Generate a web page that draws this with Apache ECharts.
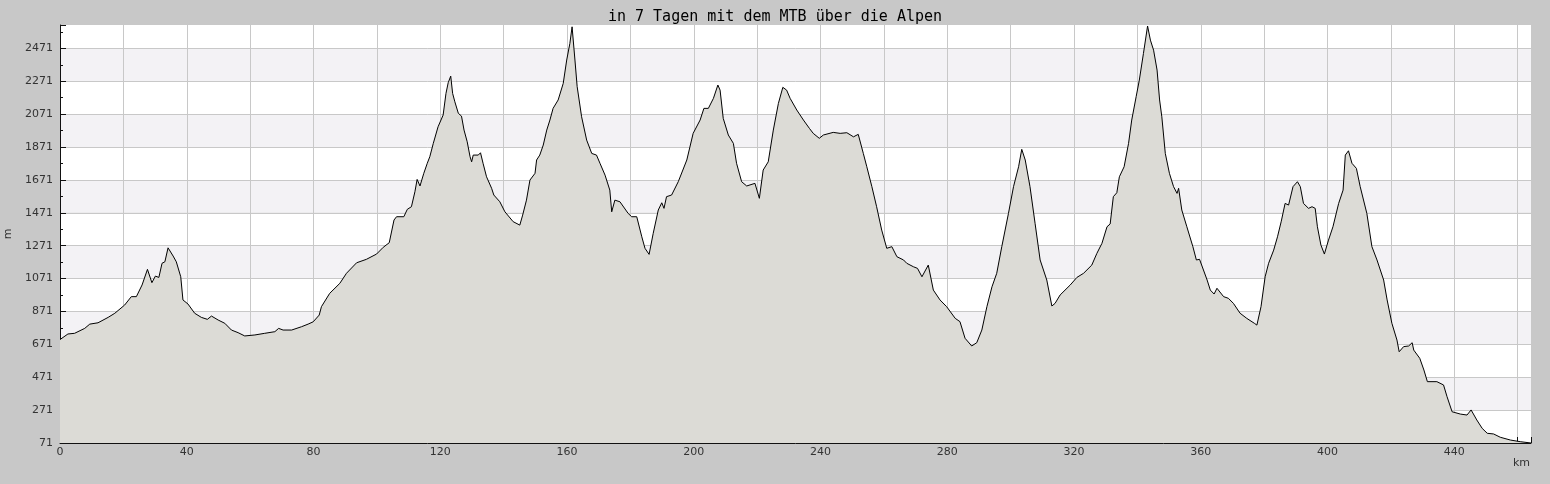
<!DOCTYPE html>
<html lang="de">
<head>
    <meta charset="UTF-8">
    <title>Höhenprofil</title>
    <script src="https://cdn.jsdelivr.net/npm/echarts@6/dist/echarts.min.js"></script>
    <style>
        html, body { margin: 0; padding: 0; background: #c8c8c8; }
        #main { width: 1550px; height: 484px; }
    </style>
</head>
<body>
    <div id="main"></div>
    <script type="text/javascript">
        var km = [
            0, 2.5, 4.6, 7.8, 9.4, 12, 15.2, 17.3, 20.4, 22.5, 24.1, 25.9, 27.6, 29.0, 30.1, 31.2, 32.2, 33.1, 34.1, 35.7,
            36.7, 38.1, 38.8, 40.4, 42.5, 44.6, 46.5, 47.8, 49.9, 52.0, 54.1, 56.2, 58.3, 61.5, 64.6, 67.8, 69.0, 70.4, 73.1, 76.2,
            78.3, 79.9, 81.8, 82.5, 85.1, 88.3, 90.4, 93.6, 96.7, 99.9, 102.0, 103.9, 105.4, 106.2, 108.5, 109.6, 110.9, 112.0, 112.7, 113.6,
            114.8, 115.9, 116.7, 117.8, 119.3, 120.9, 121.8, 122.5, 123.3, 123.9, 124.6, 125.7, 126.7, 127.5, 128.5, 129.4, 129.9, 130.4, 132.0, 132.7,
            133.5, 134.6, 136.2, 136.9, 138.8, 140.4, 143.0, 145.1, 146.0, 147.2, 148.3, 149.9, 150.4, 151.4, 152.5, 153.6, 154.6, 155.6, 157.2, 158.8,
            159.9, 160.9, 161.6, 162.5, 163.2, 164.6, 166.2, 167.8, 169.3, 170.4, 172.0, 173.5, 174.1, 175.1, 176.7, 179.3, 180.4, 182.0, 183.6, 184.6,
            185.9, 187.2, 188.8, 189.9, 190.6, 191.4, 193.0, 195.1, 197.8, 199.8, 202.0, 203.2, 204.6, 206.2, 207.6, 208.3, 209.3, 210.9, 212.5, 213.5,
            215.1, 216.7, 219.3, 220.7, 221.9, 223.5, 225.1, 226.7, 228.1, 229.3, 230.4, 232.5, 234.6, 236.5, 237.7, 239.6, 240.9, 244.0, 246.2, 248.3,
            250.4, 251.9, 253.5, 254.6, 256.2, 257.7, 259.3, 260.9, 262.5, 264.1, 266.2, 267.2, 269.3, 270.6, 272.0, 274.0, 275.6, 277.7, 279.8, 282.5,
            284.0, 285.6, 287.7, 289.3, 290.9, 292.5, 294.1, 295.6, 297.2, 299.3, 300.9, 302.5, 303.5, 304.6, 306.1, 307.7, 309.3, 311.4, 313.0, 314.0,
            315.6, 318.8, 320.9, 323.0, 325.6, 327.2, 328.8, 330.4, 331.4, 332.4, 333.5, 334.3, 335.8, 337.2, 338.2, 339.6, 340.6, 341.9, 343.2, 344.1,
            345.1, 346.2, 347.0, 347.7, 348.8, 350.1, 351.4, 352.5, 353.0, 354.0, 355.6, 357.5, 358.6, 359.6, 362.0, 363.0, 364.2, 365.1, 367.2, 368.7,
            370.3, 372.4, 374.5, 376.9, 377.7, 379.0, 380.3, 381.4, 383.0, 384.2, 385.4, 386.6, 387.7, 389.1, 390.5, 391.4, 392.4, 394.0, 395.1, 396.1,
            396.8, 397.9, 399.0, 400.3, 401.7, 403.5, 404.9, 405.6, 406.6, 407.7, 409.1, 410.3, 412.4, 414.0, 415.6, 417.7, 418.8, 420.3, 421.9, 422.6,
            424.0, 425.6, 426.7, 427.2, 429.1, 430.4, 431.5, 434.5, 436.6, 437.7, 439.3, 441.9, 444.0, 445.3, 447.1, 448.8, 450.4, 452.4, 454.5, 457.7,
            460.8, 464.2
        ];
        var hoehe = [
            700, 734, 738, 768, 794, 802, 835, 860, 910, 961, 961, 1032, 1127, 1046, 1086, 1078, 1164, 1173, 1258, 1208,
            1173, 1082, 941, 916, 860, 835, 823, 843, 819, 799, 758, 742, 722, 728, 738, 748, 768, 758, 758, 778,
            794, 808, 849, 900, 981, 1042, 1103, 1167, 1188, 1220, 1261, 1289, 1427, 1447, 1447, 1492, 1508, 1599, 1674, 1634,
            1711, 1772, 1812, 1893, 1994, 2065, 2197, 2262, 2302, 2197, 2146, 2076, 2059, 1974, 1903, 1812, 1781, 1822, 1822, 1836,
            1772, 1690, 1620, 1579, 1538, 1477, 1417, 1396, 1457, 1548, 1670, 1711, 1792, 1822, 1883, 1974, 2035, 2106, 2157, 2258,
            2400, 2501, 2602, 2400, 2238, 2055, 1913, 1832, 1822, 1772, 1700, 1609, 1477, 1548, 1538, 1467, 1447, 1447, 1325, 1255,
            1218, 1346, 1488, 1532, 1498, 1569, 1579, 1660, 1792, 1954, 2035, 2106, 2106, 2167, 2248, 2217, 2045, 1944, 1893, 1772,
            1660, 1634, 1650, 1559, 1731, 1781, 1974, 2136, 2234, 2217, 2167, 2096, 2035, 1984, 1954, 1924, 1944, 1960, 1954, 1958,
            1933, 1948, 1832, 1751, 1630, 1508, 1366, 1255, 1265, 1204, 1184, 1164, 1143, 1133, 1082, 1153, 1001, 941, 900, 829,
            809, 708, 661, 681, 758, 900, 1021, 1103, 1265, 1467, 1630, 1751, 1857, 1792, 1630, 1407, 1184, 1062, 904, 920,
            971, 1032, 1078, 1103, 1153, 1224, 1285, 1386, 1403, 1569, 1593, 1690, 1751, 1893, 2035, 2177, 2278, 2440, 2607, 2521,
            2460, 2339, 2157, 2055, 1832, 1711, 1630, 1589, 1620, 1488, 1386, 1265, 1184, 1188, 1062, 1001, 977, 1012, 961, 951,
            920, 860, 829, 799, 788, 900, 1082, 1164, 1244, 1325, 1420, 1528, 1518, 1630, 1660, 1630, 1528, 1498, 1508, 1498,
            1386, 1275, 1220, 1305, 1386, 1528, 1609, 1822, 1848, 1772, 1741, 1630, 1467, 1265, 1184, 1062, 941, 799, 697, 626,
            657, 661, 681, 636, 586, 515, 444, 444, 424, 353, 261, 247, 241, 272, 211, 160, 130, 126, 106, 89,
            79, 71
        ];
        var titel = 'in 7 Tagen mit dem MTB über die Alpen';

        var punkte = km.map(function (k, i) { return [k, hoehe[i]]; });

        var myChart = echarts.init(document.getElementById('main'));

        var option = {
            backgroundColor: '#c8c8c8',
            animation: false,
            title: {
                text: titel,
                left: 'center',
                top: 5,
                textStyle: {
                    fontFamily: 'DejaVu Sans Mono',
                    fontSize: 15,
                    fontWeight: 'normal',
                    color: '#000'
                }
            },
            grid: {
                left: 60,
                right: 19,
                top: 25,
                bottom: 41,
                containLabel: false,
                outerBoundsMode: 'none'
            },
            xAxis: {
                type: 'value',
                min: 0,
                max: 464.2,
                interval: 20,
                axisLine: { lineStyle: { color: '#111', width: 1 } },
                axisTick: { inside: true, length: 6, lineStyle: { color: '#111' } },
                minorTick: { show: true, splitNumber: 2, length: 3, lineStyle: { color: '#111' } },
                axisLabel: {
                    margin: 4,
                    fontFamily: 'DejaVu Sans',
                    fontSize: 11,
                    color: '#333',
                    showMaxLabel: false,
                    formatter: function (v) { return v % 40 === 0 ? String(v) : ''; }
                },
                splitLine: { show: true, showMaxLine: false, lineStyle: { color: '#c8c8c8', width: 1 } }
            },
            yAxis: {
                type: 'value',
                min: 71,
                max: 2613,
                interval: 200,
                name: 'm',
                nameLocation: 'middle',
                nameGap: 45,
                nameRotate: 90,
                nameTextStyle: { fontFamily: 'DejaVu Sans', fontSize: 11, color: '#333' },
                axisLine: { show: true, lineStyle: { color: '#111', width: 1 } },
                axisTick: { show: true, inside: true, length: 6, lineStyle: { color: '#111' } },
                minorTick: { show: true, splitNumber: 2, length: 3, lineStyle: { color: '#111' } },
                axisLabel: {
                    margin: 7,
                    fontFamily: 'DejaVu Sans',
                    fontSize: 11,
                    color: '#333',
                    showMaxLabel: false,
                    formatter: function (v) { return String(v); }
                },
                splitLine: { show: true, showMaxLine: false, lineStyle: { color: '#c8c8c8', width: 1 } },
                splitArea: { show: true, areaStyle: { color: ['#ffffff', '#f3f2f5'] } }
            },
            graphic: [{
                type: 'text',
                right: 20,
                top: 458,
                style: {
                    text: 'km',
                    font: '11px "DejaVu Sans"',
                    fill: '#333'
                }
            }],
            series: [{
                type: 'line',
                data: punkte,
                showSymbol: false,
                lineStyle: { color: '#000', width: 1 },
                areaStyle: { color: '#dcdbd6', opacity: 1 },
                z: 3
            }]
        };

        myChart.setOption(option);
    </script>
</body>
</html>
